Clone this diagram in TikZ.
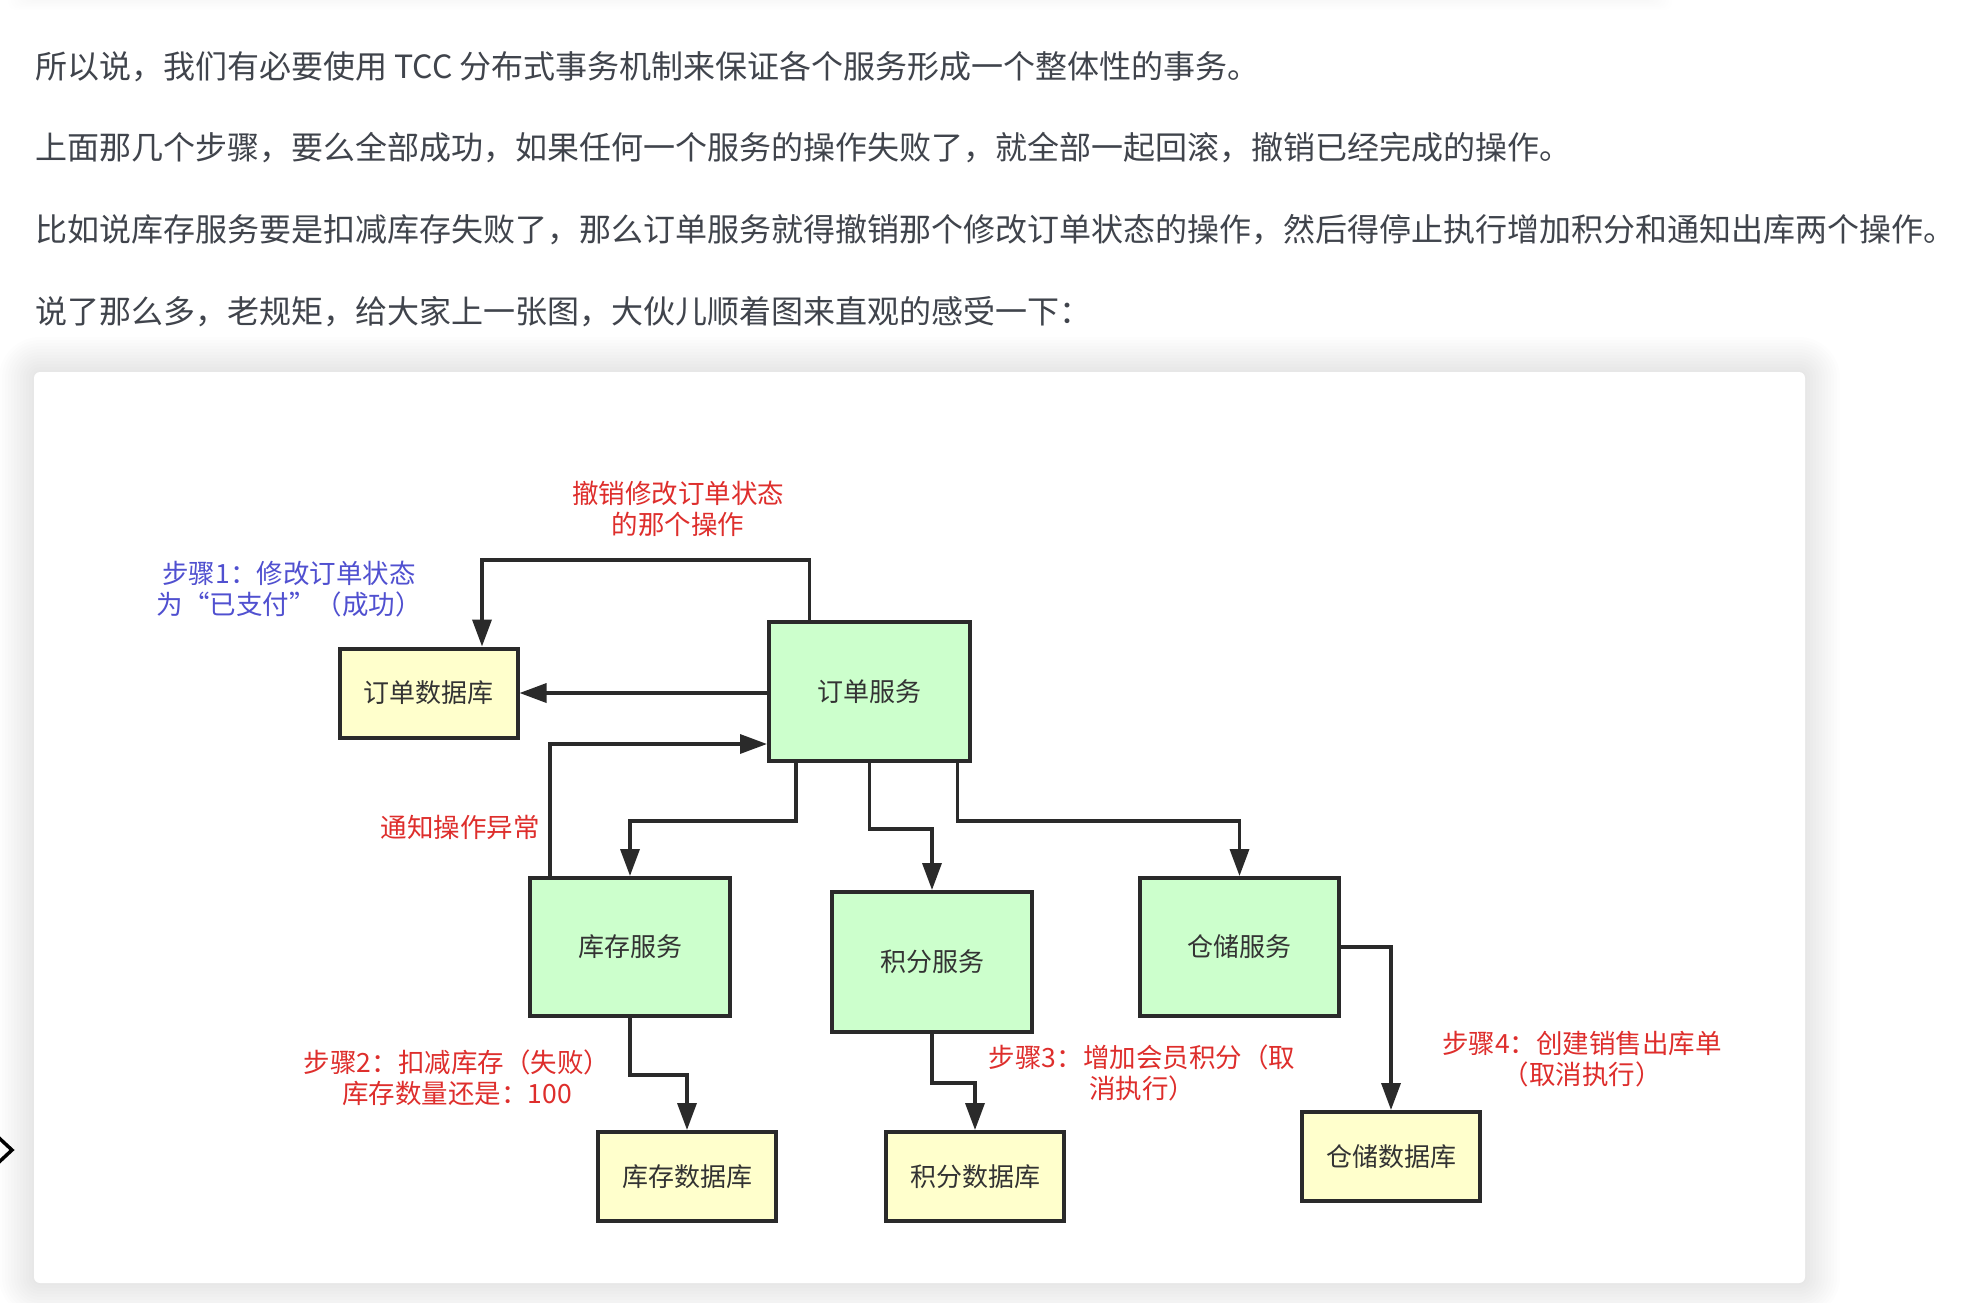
\documentclass[tikz,border=0pt]{standalone}
\usepackage{fontspec}
\setmainfont{Noto Sans CJK SC}
\usetikzlibrary{arrows.meta}
\definecolor{bodytext}{RGB}{64,68,76}
\definecolor{boxline}{RGB}{42,42,42}
\definecolor{svcfill}{RGB}{204,255,204}
\definecolor{dbfill}{RGB}{255,255,204}
\definecolor{redlbl}{RGB}{222,46,44}
\definecolor{bluelbl}{RGB}{80,80,208}
\definecolor{nodetext}{RGB}{51,51,51}
\begin{document}
\begin{tikzpicture}[x=1pt,y=-1pt,
  bodyline/.style={anchor=west, inner sep=0pt, font=\fontsize{32}{40}\selectfont, text=bodytext},
  svc/.style={draw=boxline, line width=4pt, fill=svcfill, minimum width=200pt, minimum height=139pt, inner sep=0pt, text=nodetext, font=\fontsize{26}{31}\selectfont},
  db/.style={draw=boxline, line width=4pt, fill=dbfill, minimum width=178pt, minimum height=89pt, inner sep=0pt, text=nodetext, font=\fontsize{26}{31}\selectfont},
  lbl/.style={align=center, inner sep=0pt, font=\fontsize{26.5}{31}\selectfont},
  redl/.style={lbl, text=redlbl},
  bluel/.style={lbl, text=bluelbl},
  arr/.style={draw=boxline, line width=3.5pt, -{Triangle[length=27pt,width=19pt]}}
]
\useasboundingbox (0,0) rectangle (1970,1302);
\fill[white] (0,0) rectangle (1970,1302);

% shadow of previous card at the very top
\foreach \d in {2,5,...,32}{
  \fill[black, opacity=0.004, rounded corners=8pt] (40-\d,-200) rectangle (1640+\d,-6+\d*0.5);
}
% card shadow
\foreach \d in {2,5,...,35}{
  \fill[black, opacity=0.006, rounded corners=6pt+\d*1pt] (34-\d,372-\d) rectangle (1805+\d,1283+\d);
}
\fill[white, rounded corners=6pt] (34,372) rectangle (1805,1283);

% left chevron
\draw[black, line width=3.5pt] (-2,1137) -- (12,1150) -- (-2,1163);

% body text
\node[bodyline] (t1) at (35,67) {所以说，我们有必要使用 TCC 分布式事务机制来保证各个服务形成一个整体性的事务。};
\node[bodyline] (t2) at (35,148) {上面那几个步骤，要么全部成功，如果任何一个服务的操作失败了，就全部一起回滚，撤销已经完成的操作。};
\node[bodyline] (t3) at (35,230) {比如说库存服务要是扣减库存失败了，那么订单服务就得撤销那个修改订单状态的操作，然后得停止执行增加积分和通知出库两个操作。};
\node[bodyline] (t4) at (35,312) {说了那么多，老规矩，给大家上一张图，大伙儿顺着图来直观的感受一下：};

% nodes
\node[db]  (odb)  at (428.5,693) {订单数据库};
\node[svc, minimum width=201pt] (osvc) at (869.5,691.5) {订单服务};
\node[svc, minimum height=138pt] (ksvc) at (630,947) {库存服务};
\node[svc, minimum height=140pt] (jsvc) at (932,962) {积分服务};
\node[svc, minimum width=199pt, minimum height=138pt] (csvc) at (1239.5,947) {仓储服务};
\node[db]  (kdb)  at (687,1176.5) {库存数据库};
\node[db]  (jdb)  at (975,1176.5) {积分数据库};
\node[db]  (cdb)  at (1391,1156.5) {仓储数据库};

% labels
\node[redl]  (l0) at (678,509) {撤销修改订单状态\\的那个操作};
\node[bluel] (l1) at (289,589) {步骤1：修改订单状态\\为“已支付”（成功）};
\node[redl]  (l2) at (460,827) {通知操作异常};
\node[redl]  (l3) at (457,1078) {步骤2：扣减库存（失败）\\库存数量还是：100};
\node[redl]  (l4) at (1142,1073) {步骤3：增加会员积分（取\\消执行）};
\node[redl]  (l5) at (1582,1059) {步骤4：创建销售出库单\\（取消执行）};

% connectors
\draw[arr] (osvc.west |- odb.east) -- (odb.east);
\draw[arr] ([xshift=-60pt]osvc.north) -- ++(0,-60) -| ([xshift=53.5pt]odb.north);
\draw[arr] ([xshift=-80pt]ksvc.north) |- ([yshift=-52.5pt]osvc.west);
\draw[arr] ([xshift=-73.5pt]osvc.south) -- ++(0,58) -| (ksvc.north);
\draw[arr] (osvc.south) -- ++(0,66) -| (jsvc.north);
\draw[arr] ([xshift=88pt]osvc.south) -- ++(0,58) -| (csvc.north);
\draw[arr] (ksvc.south) -- ++(0,57) -| (kdb.north);
\draw[arr] (jsvc.south) -- ++(0,49) -| (jdb.north);
\draw[arr] (csvc.east) -| (cdb.north);
\end{tikzpicture}
\end{document}
